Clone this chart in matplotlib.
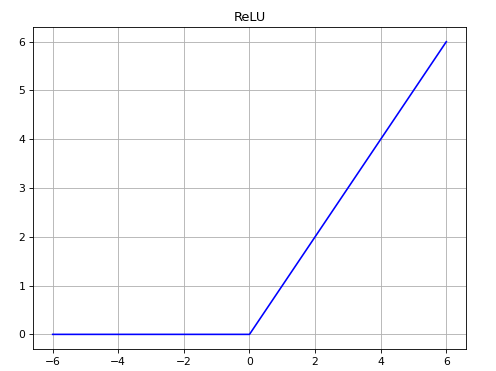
import numpy as np
import matplotlib
matplotlib.use('Agg')
import matplotlib.pyplot as plt

# ReLU sampled points
x = [-6, -4, -2, 0, 2, 4, 6]
y = [0, 0, 0, 0, 2, 4, 6]

fig = plt.figure(figsize=(6.4, 371 / 77.5), dpi=77.5)
fig.subplots_adjust(left=0.0665, right=0.9395, bottom=0.0593, top=0.927)
ax = fig.add_subplot(111)
ax.plot(x, y, color='b')
ax.set_title('ReLU')
ax.grid(True)
fig.savefig('out.png', dpi=77.5)
